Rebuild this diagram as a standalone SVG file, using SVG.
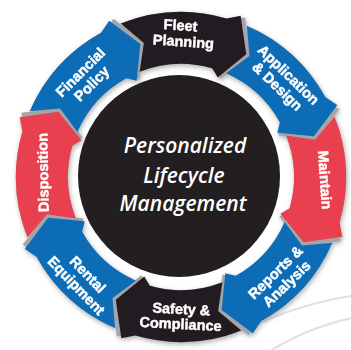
<svg xmlns="http://www.w3.org/2000/svg" xmlns:xlink="http://www.w3.org/1999/xlink" width="351" height="350" viewBox="0 0 351 350">
  <defs>
    <!-- one 45-degree curved arrow of the ring, drawn at 12 o'clock around the origin -->
    <path id="seg" d="M-60.47,-153.52 A165,165 0 0 1 45.48,-158.61 L59.67,-161.32 L65.26,-122.72 L36.77,-99.42 L31.14,-108.63 A113,113 0 0 0 -41.41,-105.14 L-37.14,-133.94 Z"/>
    <filter id="soft" x="-20%" y="-20%" width="140%" height="140%">
      <feGaussianBlur in="SourceAlpha" stdDeviation="2.8"/>
      <feOffset dx="1" dy="1.5" result="b"/>
      <feFlood flood-color="#777777" flood-opacity="0.6"/>
      <feComposite in2="b" operator="in"/>
      <feMerge><feMergeNode/><feMergeNode in="SourceGraphic"/></feMerge>
    </filter>
    <filter id="edge" x="-10%" y="-10%" width="120%" height="120%">
      <feGaussianBlur stdDeviation="0.6"/>
    </filter>
  </defs>
  <style>
    .blk { fill: #231f20; }
    .blu { fill: #0d6cb6; }
    .red { fill: #e8404f; }
    .gry { fill: #a3a5a8; }
    .lbl { font-family: "Liberation Sans", Arial, sans-serif; font-weight: bold; font-size: 14.5px; fill: #ffffff; stroke: #ffffff; stroke-width: 0.45; text-anchor: middle; }
    .hub { font-family: "Open Sans", "Noto Sans", sans-serif; font-style: italic; font-weight: 600; font-size: 21px; fill: #ffffff; text-anchor: middle; }
    .swoosh { fill: none; stroke: #e1e1e1; stroke-width: 2.2; stroke-linecap: round; }
  </style>

  <rect width="351" height="350" fill="#ffffff"/>

  <!-- faint background swooshes -->
  <g id="swooshes">
    <path class="swoosh" d="M245,331 Q290,306 351,296"/>
    <path class="swoosh" d="M272,350 Q305,329 351,318"/>
  </g>

  <!-- centre hub -->
  <g id="hub">
    <circle cx="179" cy="176" r="101" class="blk"/>
    <text class="hub" x="185" y="153">Personalized</text>
    <text class="hub" x="184" y="183">Lifecycle</text>
    <text class="hub" x="183" y="211">Management</text>
  </g>

  <g id="ring" filter="url(#soft)">
    <!-- grey bevel showing through the gaps ahead of every arrowhead -->
    <g id="bevels" filter="url(#edge)">
      <use xlink:href="#seg" class="gry" transform="translate(181,177) rotate(1.6)"/>
      <use xlink:href="#seg" class="gry" transform="translate(181,177) rotate(46.6)"/>
      <use xlink:href="#seg" class="gry" transform="translate(181,177) rotate(91.6)"/>
      <use xlink:href="#seg" class="gry" transform="translate(181,177) rotate(136.6)"/>
      <use xlink:href="#seg" class="gry" transform="translate(181,177) rotate(181.6)"/>
      <use xlink:href="#seg" class="gry" transform="translate(181,177) rotate(226.6)"/>
      <use xlink:href="#seg" class="gry" transform="translate(181,177) rotate(271.6)"/>
      <use xlink:href="#seg" class="gry" transform="translate(181,177) rotate(316.6)"/>
    </g>

    <g id="fleet-planning">
      <use xlink:href="#seg" class="blk" transform="translate(181,177)"/>
      <g transform="translate(183,33.5) rotate(4)">
        <text class="lbl" x="-3" y="-3">Fleet</text>
        <text class="lbl" x="1" y="13">Planning</text>
      </g>
    </g>

    <g id="application-design">
      <use xlink:href="#seg" class="blu" transform="translate(181,177) rotate(45)"/>
      <g transform="translate(283,80.5) rotate(44)">
        <text class="lbl" y="-3">Application</text>
        <text class="lbl" y="13">&amp; Design</text>
      </g>
    </g>

    <g id="maintain">
      <use xlink:href="#seg" class="red" transform="translate(181,177) rotate(90)"/>
      <g transform="translate(325,180) rotate(86)">
        <text class="lbl" y="5">Maintain</text>
      </g>
    </g>

    <g id="reports-analysis">
      <use xlink:href="#seg" class="blu" transform="translate(181,177) rotate(135)"/>
      <g transform="translate(281,278) rotate(-44)">
        <text class="lbl" y="-3">Reports &amp;</text>
        <text class="lbl" y="13">Analysis</text>
      </g>
    </g>

    <g id="safety-compliance">
      <use xlink:href="#seg" class="blk" transform="translate(181,177) rotate(180)"/>
      <g transform="translate(181,316) rotate(3)">
        <text class="lbl" y="-2">Safety &amp;</text>
        <text class="lbl" y="13">Compliance</text>
      </g>
    </g>

    <g id="rental-equipment">
      <use xlink:href="#seg" class="blu" transform="translate(181,177) rotate(225)"/>
      <g transform="translate(82,280) rotate(46)">
        <text class="lbl" y="-3">Rental</text>
        <text class="lbl" y="13">Equipment</text>
      </g>
    </g>

    <g id="disposition">
      <use xlink:href="#seg" class="red" transform="translate(181,177) rotate(270)"/>
      <g transform="translate(43,172.5) rotate(-91)">
        <text class="lbl" y="5">Disposition</text>
      </g>
    </g>

    <g id="financial-policy">
      <use xlink:href="#seg" class="blu" transform="translate(181,177) rotate(315)"/>
      <g transform="translate(86,78) rotate(-45)">
        <text class="lbl" y="-3">Financial</text>
        <text class="lbl" y="13">Policy</text>
      </g>
    </g>
  </g>
</svg>
